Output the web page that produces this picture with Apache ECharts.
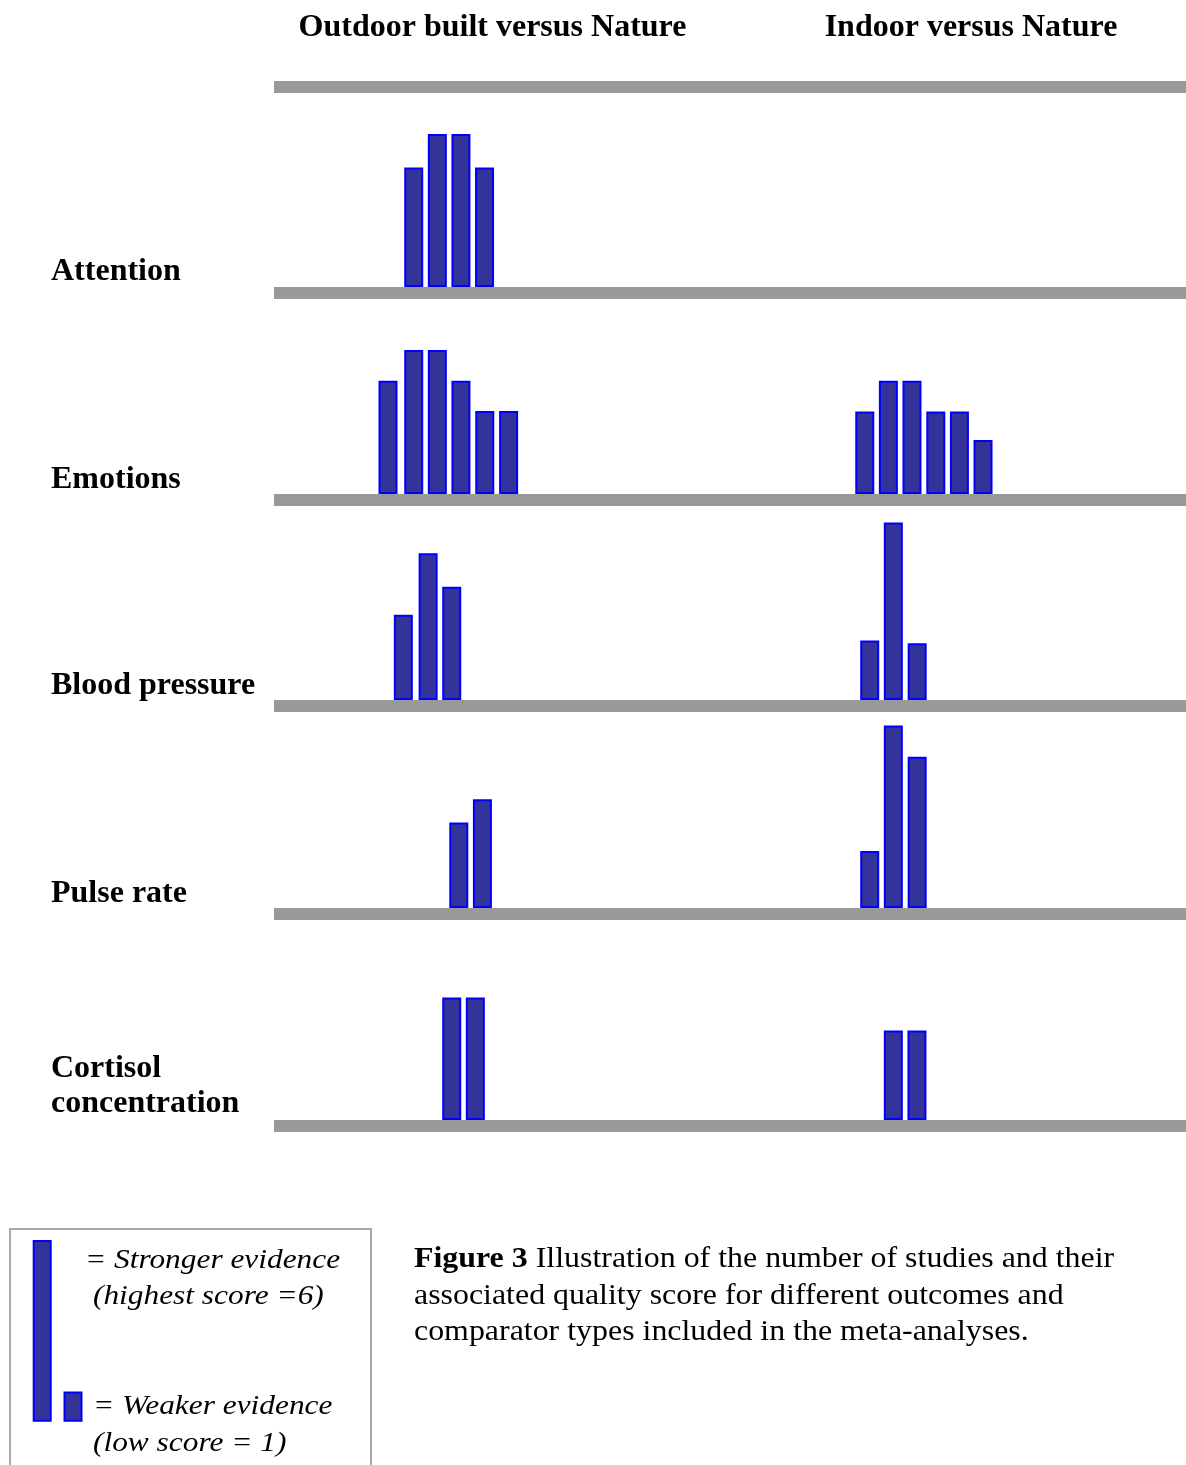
<!DOCTYPE html>
<html>
<head>
<meta charset="utf-8">
<script src="https://cdn.jsdelivr.net/npm/echarts@6/dist/echarts.min.js"></script>
<style>
html,body{margin:0;padding:0;background:#fff;}
#chart{width:1186px;height:1465px;}
</style>
</head>
<body>
<div id="chart"></div>
<script>
// ---- data ----
const rowLabels = ['Attention', 'Emotions', 'Blood pressure', 'Pulse rate', 'Cortisol\nconcentration'];
const columnTitles = ['Outdoor built versus Nature', 'Indoor versus Nature'];
// bar slot positions (in bar-slot units along each row) and quality scores
const outdoorPos = [[5.92, 6.92, 7.92, 8.92], [4.83, 5.92, 6.92, 7.92, 8.93, 9.94], [5.48, 6.53, 7.53], [7.83, 8.83], [7.53, 8.53]];
const outdoorScore = [[3.94, 5.05, 5.05, 3.94], [3.74, 4.75, 4.75, 3.74, 2.74, 2.74], [2.81, 4.84, 3.74], [2.82, 3.59], [4.04, 4.04]];
const indoorPos = [[], [25.03, 26.03, 27.03, 28.04, 29.04, 30.04], [25.24, 26.24, 27.25], [25.24, 26.24, 27.25], [26.24, 27.24]];
const indoorScore = [[], [2.72, 3.74, 3.74, 2.72, 2.72, 1.78], [1.96, 5.86, 1.87], [1.88, 6.02, 4.99], [2.95, 2.95]];
const legendKeys = ['Stronger', 'Weaker'];
const legendScores = [6, 1];
const legendTexts = ['= Stronger evidence', '(highest score =6)', '= Weaker evidence', '(low score = 1)'];
const captionLines = ['Illustration of the number of studies and their', 'associated quality score for different outcomes and', 'comparator types included in the meta-analyses.'];
const captionLead = 'Figure 3';

// ---- layout ----
const pxPerScore = 30.3;
const yMax = 6.5;
const lineW = 12;
const belowZero = (lineW / 2) / pxPerScore;   // half the baseline thickness, in score units
const rowHeight = (yMax + belowZero) * pxPerScore;
const baselineTops = [287, 494, 700, 908, 1120];
const plotLeft = 274, plotWidth = 912;
const slotMax = 38.64;
const FILL = '#333399', EDGE = '#0000ff', GRAY = '#999999';
const SERIF = '"Liberation Serif", "Times New Roman", serif';

const grids = [], xAxes = [], yAxes = [], series = [];
baselineTops.forEach((bt, i) => {
  const bottomPx = bt + lineW / 2;
  grids.push({left: plotLeft, width: plotWidth, top: bottomPx - rowHeight, height: rowHeight, containLabel: false, outerBoundsMode: 'none'});
  xAxes.push({
    type: 'value', gridIndex: i, min: 0, max: slotMax, z: 5,
    axisLine: {show: true, onZero: false, lineStyle: {color: GRAY, width: lineW, cap: 'butt'}},
    axisTick: {show: false}, axisLabel: {show: false}, splitLine: {show: false}
  });
  yAxes.push({type: 'value', gridIndex: i, min: -belowZero, max: yMax, show: false, splitLine: {show: false}});
  const data = outdoorPos[i].map((p, j) => [p, outdoorScore[i][j]])
    .concat(indoorPos[i].map((p, j) => [p, indoorScore[i][j]]));
  series.push({
    type: 'bar', xAxisIndex: i, yAxisIndex: i, data: data, barWidth: 19,
    itemStyle: {color: FILL, borderColor: EDGE, borderWidth: 2},
    silent: true, animation: false
  });
});

// legend key grid (same score scale)
const lg = baselineTops.length;
grids.push({left: 26.8, width: 61.6, top: 1421.7 - 6 * pxPerScore, height: 6 * pxPerScore, containLabel: false, outerBoundsMode: 'none'});
xAxes.push({type: 'category', gridIndex: lg, data: legendKeys, show: false});
yAxes.push({type: 'value', gridIndex: lg, min: 0, max: 6, show: false, splitLine: {show: false}});
series.push({
  type: 'bar', xAxisIndex: lg, yAxisIndex: lg, data: legendScores, barWidth: 19,
  itemStyle: {color: FILL, borderColor: EDGE, borderWidth: 2}, silent: true, animation: false
});

// ---- text / decorations ----
const graphic = [];
graphic.push({type: 'rect', shape: {x: plotLeft, y: 81, width: plotWidth, height: 12}, style: {fill: GRAY}, z: 1});
const titleX = [492.5, 971];
columnTitles.forEach((t, k) => {
  graphic.push({type: 'text', x: titleX[k], y: 27.5, style: {text: t, font: 'bold 32px ' + SERIF, fill: '#000', align: 'center', verticalAlign: 'middle'}});
});
const labelY = [272, 480, 686, 894, 1086.5];
rowLabels.forEach((t, i) => {
  graphic.push({type: 'text', x: 51, y: labelY[i], style: {text: t, font: 'bold 32px ' + SERIF, fill: '#000', align: 'left', verticalAlign: 'middle', lineHeight: 35}});
});
// Legend box
graphic.push({type: 'rect', shape: {x: 10, y: 1229, width: 361, height: 300}, style: {fill: 'none', stroke: '#a8a8a8', lineWidth: 2}, z: 0});
const legX = [85, 93, 93, 93], legY = [1261, 1297, 1406.5, 1444];
legendTexts.forEach((t, k) => {
  graphic.push({type: 'text', x: legX[k], y: legY[k], scaleX: 1.12, style: {text: t, font: 'italic 28px ' + SERIF, fill: '#000', align: 'left', verticalAlign: 'middle'}});
});
// Caption
const capY = [1259.5, 1296, 1332.5];
captionLines.forEach((t, k) => {
  const txt = k === 0 ? '{b|' + captionLead + '} ' + t : t;
  graphic.push({type: 'text', x: 414, y: capY[k], scaleX: 1.1, style: {
    text: txt, font: '29px ' + SERIF, fill: '#000', align: 'left', verticalAlign: 'middle',
    rich: {b: {font: 'bold 29px ' + SERIF, fill: '#000'}}
  }});
});

const chart = echarts.init(document.getElementById('chart'), null, {renderer: 'canvas'});
chart.setOption({
  backgroundColor: '#ffffff',
  animation: false,
  grid: grids, xAxis: xAxes, yAxis: yAxes, series: series,
  graphic: graphic
});
</script>
</body>
</html>
